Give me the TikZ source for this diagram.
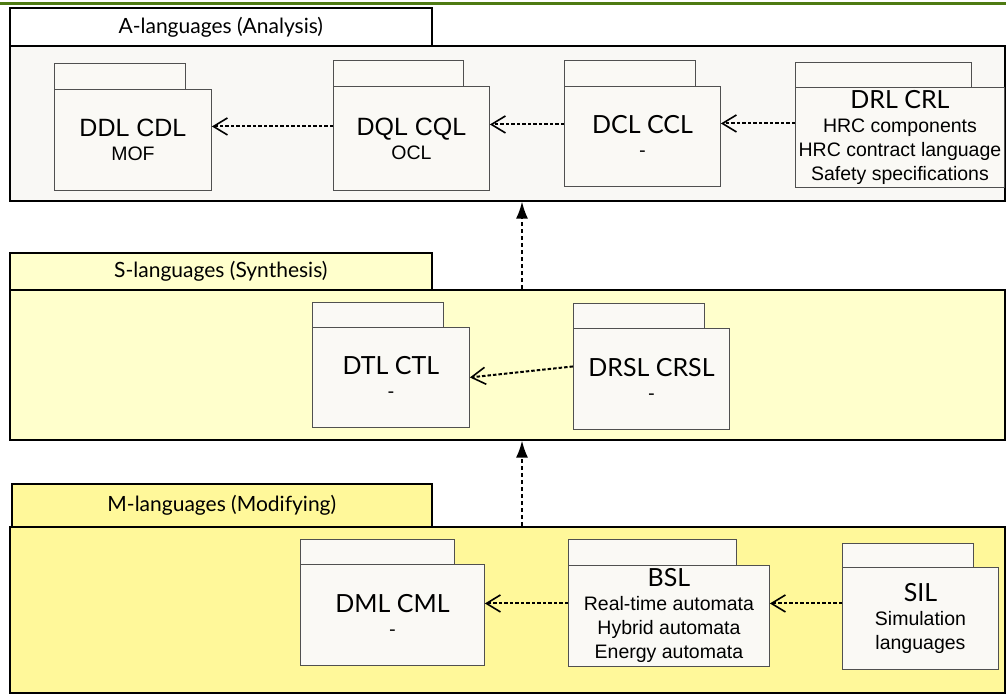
\documentclass[tikz,border=0pt]{standalone}
\usepackage{fontspec}
\newfontfamily\lato{Lato}
\newfontfamily\arialf{Liberation Sans}
\usetikzlibrary{arrows.meta,calc}
\definecolor{pkgfill}{HTML}{FAF9F5}
\definecolor{afill}{HTML}{F9F8F5}
\definecolor{sfill}{HTML}{FFFFCC}
\definecolor{mfill}{HTML}{FFF89A}
\definecolor{topgreen}{HTML}{4E7A12}
\definecolor{pkgline}{HTML}{505050}
\newcommand{\bigL}{\lato\fontsize{25}{27}\selectfont}
\newcommand{\bigA}{\arialf\fontsize{25}{27}\selectfont}
\tikzset{
  sectab/.style={draw=black, line width=1.6pt, anchor=north west, inner sep=0pt,
    font=\lato\fontsize{21}{23}\selectfont},
  secbox/.style={draw=black, line width=1.6pt, anchor=north west, inner sep=0pt},
  pkgtab/.style={draw=pkgline, line width=0.9pt, fill=pkgfill, anchor=north west, inner sep=0pt},
  pkgbody/.style={draw=pkgline, line width=0.9pt, fill=pkgfill, anchor=north west, inner sep=0pt,
    align=center, font=\arialf\fontsize{19.5}{24}\selectfont},
  dep/.style={line width=2pt, dash pattern=on 3.5pt off 2pt,
    -{Straight Barb[length=14pt,width=17pt,line width=1.6pt]}},
  layer/.style={line width=1.8pt, dash pattern=on 4.5pt off 2.5pt,
    -{Latex[length=17pt,width=12pt]}},
}
\begin{document}
\begin{tikzpicture}[x=1pt,y=-1pt]
\useasboundingbox (0,0) rectangle (1006,695);
\fill[white] (0,0) rectangle (1006,695);
\coordinate (gl) at (0,3.5);
\coordinate (gr) at (1006,3.5);
\draw[topgreen, line width=2.5pt] (gl) -- (gr);

% ---- A layer
\node[secbox, fill=afill, minimum width=995pt, minimum height=155pt] (abox) at (9,45) {};
\node[sectab, fill=white, minimum width=422pt, minimum height=38pt] (atab) at (9,7) {A-languages (Analysis)};

\node[pkgtab, minimum width=131pt, minimum height=26pt] (ddlt) at (54,63) {};
\node[pkgbody, minimum width=157pt, minimum height=101pt] (ddl) at (54,89) {{\bigA DDL CDL}\\MOF};
\node[pkgtab, minimum width=130pt, minimum height=26pt] (dqlt) at (333,60) {};
\node[pkgbody, minimum width=156pt, minimum height=104pt] (dql) at (333,86) {{\bigA DQL CQL}\\OCL};
\node[pkgtab, minimum width=131pt, minimum height=26pt] (dclt) at (564,60) {};
\node[pkgbody, minimum width=156pt, minimum height=100pt] (dcl) at (564,86) {{\bigL DCL CCL}\\{\lato -}};
\node[pkgtab, minimum width=176pt, minimum height=25pt] (drlt) at (795,62) {};
\node[pkgbody, minimum width=209pt, minimum height=100pt] (drl) at (795,87) {{\bigL DRL CRL}\\HRC components\\HRC contract language\\Safety specifications};

\draw[dep] ([yshift=12pt]dql.west) -- ([yshift=13.5pt]ddl.east);
\draw[dep] ([yshift=12pt]dcl.west) -- ([yshift=14pt]dql.east);
\draw[dep] ([yshift=14pt]drl.west) -- ([yshift=13pt]dcl.east);

% ---- S layer
\node[secbox, fill=sfill, minimum width=995pt, minimum height=150pt] (sbox) at (9,289) {};
\node[sectab, fill=sfill, minimum width=422pt, minimum height=37pt] (stab) at (9,252) {S-languages (Synthesis)};

\node[pkgtab, minimum width=131pt, minimum height=25pt] (dtlt) at (312,302) {};
\node[pkgbody, minimum width=157pt, minimum height=100pt] (dtl) at (312,327) {{\bigL DTL CTL}\\{\lato -}};
\node[pkgtab, minimum width=131pt, minimum height=25pt] (drslt) at (573,303) {};
\node[pkgbody, minimum width=156pt, minimum height=101pt] (drsl) at (573,328) {{\bigL DRSL CRSL}\\{\lato -}};

\draw[dep] ([yshift=12.5pt]drsl.west) -- (dtl.east);

% ---- M layer
\node[secbox, fill=mfill, minimum width=995pt, minimum height=166pt] (mbox) at (9,526) {};
\node[sectab, fill=mfill, minimum width=420pt, minimum height=43pt] (mtab) at (11,483) {M-languages (Modifying)};

\node[pkgtab, minimum width=154pt, minimum height=25pt] (dmlt) at (300,539) {};
\node[pkgbody, minimum width=184pt, minimum height=101pt] (dml) at (300,564) {{\bigL DML CML}\\{\lato -}};
\node[pkgtab, minimum width=168pt, minimum height=26pt] (bslt) at (568,539) {};
\node[pkgbody, minimum width=201pt, minimum height=101pt] (bsl) at (568,565) {{\bigL BSL}\\Real-time automata\\Hybrid automata\\Energy automata};
\node[pkgtab, minimum width=131pt, minimum height=24pt] (silt) at (842,543) {};
\node[pkgbody, minimum width=156pt, minimum height=102pt] (sil) at (842,567) {{\bigL SIL}\\Simulation\\languages};

\draw[dep] ([yshift=12.5pt]bsl.west) -- ([yshift=11.5pt]dml.east);
\draw[dep] ([yshift=15pt]sil.west) -- ([yshift=12.5pt]bsl.east);

% ---- layer arrows
\coordinate (vx) at (522,0);
\draw[layer] (sbox.north -| vx) -- (abox.south -| vx);
\draw[layer] (mbox.north -| vx) -- (sbox.south -| vx);
\end{tikzpicture}
\end{document}
